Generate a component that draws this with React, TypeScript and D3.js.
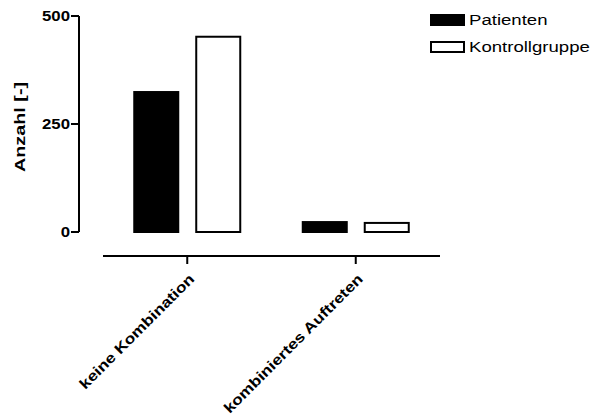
import React from "react";
import * as d3 from "d3";

const categories = ["keine Kombination", "kombiniertes Auftreten"];
const seriesNames = ["Patienten", "Kontrollgruppe"];
const patienten = [324, 23];
const kontrollgruppe = [452, 21];
const yTicks = [0, 250, 500];
const yLabel = "Anzahl [-]";

const W = 596;
const H = 418;
const FONT = "'Liberation Sans', Arial, sans-serif";

const fills = ["#000", "#fff"];

export default function App() {
  const y = d3.scaleLinear().domain([0, 500]).range([232, 16]);
  const x = d3.scaleBand<string>().domain(categories).range([103, 440]).paddingOuter(0).paddingInner(0);
  const groupW = 106;
  const inner = d3.scaleBand<string>().domain(seriesNames).range([0, groupW]).paddingInner(0.29);
  const values = [patienten, kontrollgruppe];
  const axisY = 256;
  const y0 = y(0);

  return (
    <svg width={W} height={H} style={{ position: "absolute", left: 0, top: 0, background: "#fff" }}
      fontFamily={FONT}>
      {/* bars */}
      {categories.map((c, ci) => {
        const cx = x(c)! + x.bandwidth() / 2;
        return seriesNames.map((s, si) => {
          const bx = cx - groupW / 2 + inner(s)!;
          const v = values[si][ci];
          return (
            <rect key={c + s} x={bx} y={y(v)} width={inner.bandwidth()} height={y0 - y(v)}
              fill={fills[si]} stroke="#000" strokeWidth={2} />
          );
        });
      })}

      {/* y axis */}
      <line x1={79} x2={79} y1={y(500)} y2={y(0)} stroke="#000" strokeWidth={2} />
      {yTicks.map(t => (
        <g key={t}>
          <line x1={71} x2={79} y1={y(t)} y2={y(t)} stroke="#000" strokeWidth={2} />
          <g transform={`translate(70,${y(t)}) scale(1.2,1)`}>
            <text textAnchor="end" dy="0.36em" fontSize={14} fontWeight="bold">{t}</text>
          </g>
        </g>
      ))}
      <g transform={`translate(25,127) rotate(-90) scale(1.32,1)`}>
        <text textAnchor="middle" fontSize={15} fontWeight="bold">{yLabel}</text>
      </g>

      {/* x axis */}
      <line x1={x.range()[0]} x2={x.range()[1]} y1={axisY} y2={axisY} stroke="#000" strokeWidth={2} />
      {categories.map(c => {
        const cx = x(c)! + x.bandwidth() / 2;
        return (
          <g key={c}>
            <line x1={cx} x2={cx} y1={axisY} y2={axisY + 8} stroke="#000" strokeWidth={2} />
            <g transform={`translate(${cx + 8},${axisY + 24}) rotate(-45) scale(1.2,1)`}>
              <text textAnchor="end" fontSize={14.5} fontWeight="bold">{c}</text>
            </g>
          </g>
        );
      })}

      {/* legend */}
      {seriesNames.map((s, i) => {
        const ly = 20 + i * 27;
        return (
          <g key={s}>
            <rect x={431} y={ly - 5} width={33} height={10} fill={fills[i]} stroke="#000" strokeWidth={2} />
            <g transform={`translate(469,${ly}) scale(1.24,1)`}>
              <text dy="0.36em" fontSize={15}>{s}</text>
            </g>
          </g>
        );
      })}
    </svg>
  );
}
